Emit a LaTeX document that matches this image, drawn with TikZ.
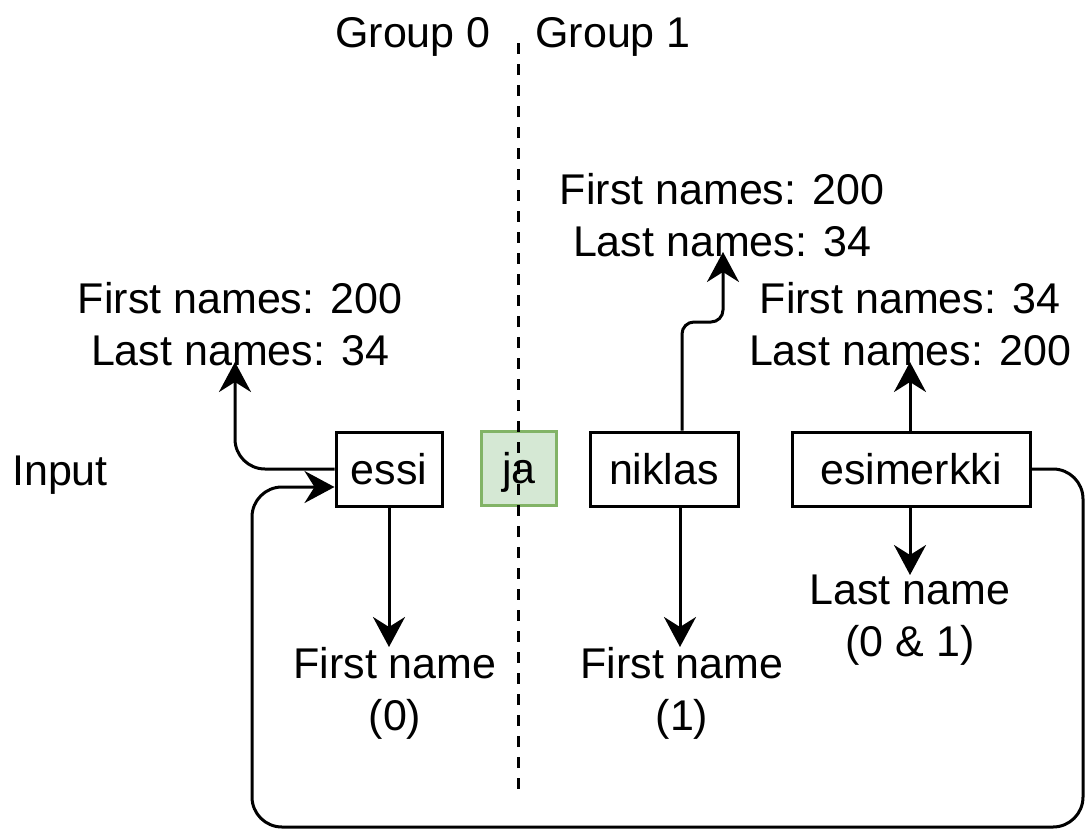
\documentclass[tikz,border=0pt]{standalone}
\usepackage{fontspec}
\setmainfont{Liberation Sans}
\usetikzlibrary{arrows.meta}
\definecolor{jafill}{HTML}{D5E8D4}
\definecolor{jaline}{HTML}{82B366}
\tikzset{
  txt/.style={font=\fontsize{43}{52}\selectfont, inner sep=0pt, align=center},
  wordbox/.style={draw, line width=3pt, inner sep=0pt, minimum height=74pt,
    font=\fontsize{43}{52}\selectfont, text height=30pt, text depth=0pt},
  conn/.style={line width=3pt, -{Stealth[length=30pt, width=32pt, inset=10pt]}},
  divider/.style={line width=3pt, dash pattern=on 11pt off 10pt}
}
\begin{document}
\begin{tikzpicture}[x=1pt, y=-1pt]
  \useasboundingbox (0,0) rectangle (1087,830);
  \fill[white] (0,0) rectangle (1087,830);

  % word boxes of the input line
  \node[wordbox, minimum width=106pt] (essi) at (389,469) {essi};
  \node[wordbox, minimum width=75pt, fill=jafill, draw=jaline] (ja) at (519,468) {ja};
  \node[wordbox, minimum width=148pt] (niklas) at (664,469) {niklas};
  \node[wordbox, minimum width=238pt] (esim) at (911,469) {esimerkki};

  % labels
  \node[txt, anchor=base] (g0) at (413,47) {Group 0};
  \node[txt, anchor=base] (g1) at (613,47) {Group 1};
  \node[txt, anchor=base] (input) at (60,485) {Input};
  \node[txt] (c0) at (240,324) {First names: 200\\Last names: 34};
  \node[txt] (c1) at (722,215) {First names: 200\\Last names: 34};
  \node[txt] (c2) at (910,324) {First names: 34\\Last names: 200};
  \node[txt] (f0) at (395,693) {First name\\(0)};
  \node[txt] (f1) at (682,693) {First name\\(1)};
  \node[txt] (ln) at (910,620) {Last name\\(0 \& 1)};

  % arrow end points
  \coordinate (t0) at (235,362);
  \coordinate (t1) at (723,252);
  \coordinate (t2) at (910,362);
  \coordinate (t3) at (910,575);
  \coordinate (t4) at (389,647);
  \coordinate (t5) at (680,647);
  \coordinate (loopR) at (1083,827);
  \coordinate (loopL) at (252,827);

  % connectors
  \draw[conn, rounded corners=30pt] (essi.west) -- (t0 |- essi.west) -- (t0);
  \draw[conn] (essi.south) -- (t4);
  \draw[conn] (niklas.south -| t5) -- (t5);
  \draw[conn, rounded corners=12pt] (niklas.north -| 682,0) -- (682,322) -- (723,322) -- (t1);
  \draw[conn] (esim.north -| t2) -- (t2);
  \draw[conn] (esim.south -| t3) -- (t3);
  \draw[conn, rounded corners=30pt] (esim.east) -- (loopR |- esim.east) -- (loopR)
    -- (loopL) -- (loopL |- 0,487) -- ([yshift=-18pt]essi.west);

  % group divider
  \draw[divider] (518,43) -- (518,797);
\end{tikzpicture}
\end{document}
